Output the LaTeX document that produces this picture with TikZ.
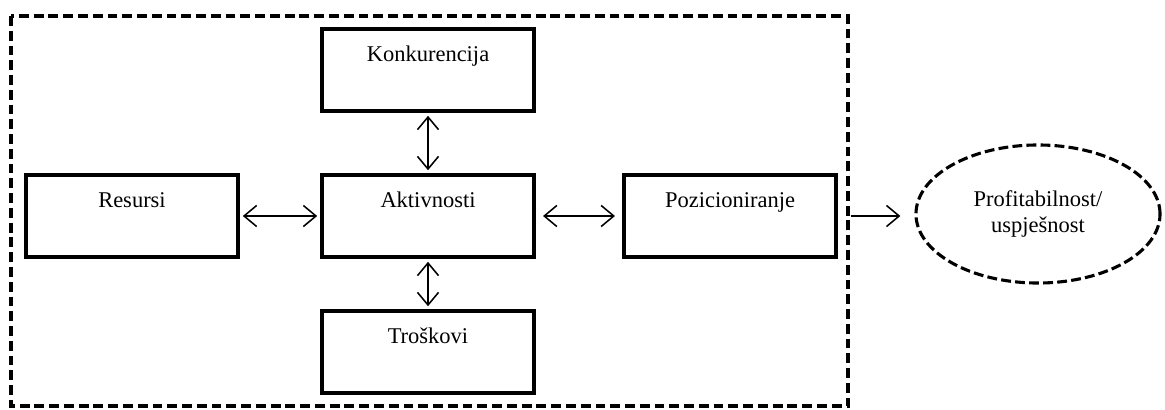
\documentclass[tikz,border=0pt]{standalone}
\usepackage{fontspec}
\setmainfont{Liberation Serif}
\usetikzlibrary{shapes.geometric,arrows.meta}
\begin{document}
\begin{tikzpicture}[x=0.025cm,y=-0.025cm,
  blok/.style={draw,line width=2.8pt,minimum width=5.3cm,inner ysep=0pt,
    text height=0.8cm,text depth=1.25cm,font=\fontsize{16}{18.5}\selectfont},
  veza/.style={line width=1.1pt,{Straight Barb[length=9pt,width=15pt]}-{Straight Barb[length=9pt,width=15pt]},shorten <=2pt,shorten >=2pt},
  izlaz/.style={line width=1.1pt,-{Straight Barb[length=9pt,width=15pt]}}]
  \useasboundingbox (0,0) rectangle (1165,409);
  \draw[line width=2.2pt,dash pattern=on 7pt off 3.5pt] (11,16) rectangle (848,406);
  \node[blok] (konk) at (428,70) {Konkurencija};
  \node[blok] (res) at (132,216) {Resursi};
  \node[blok] (akt) at (428,216) {Aktivnosti};
  \node[blok] (poz) at (730,216) {Pozicioniranje};
  \node[blok] (tros) at (428,352) {Troškovi};
  \node[draw,ellipse,line width=2.2pt,dash pattern=on 7pt off 3pt,minimum width=6.1cm,minimum height=3.45cm,
    align=center,font=\fontsize{16}{18.5}\selectfont] (profit) at (1038,214) {Profitabilnost/\\uspješnost};
  \draw[veza] (konk) -- (akt);
  \draw[veza] (akt) -- (tros);
  \draw[veza] (res) -- (akt);
  \draw[veza,shorten <=5pt,shorten >=5pt] (akt) -- (poz);
  \draw[izlaz,shorten <=9pt,shorten >=10pt] (poz.east) -- (profit.west |- poz.east);
\end{tikzpicture}
\end{document}
